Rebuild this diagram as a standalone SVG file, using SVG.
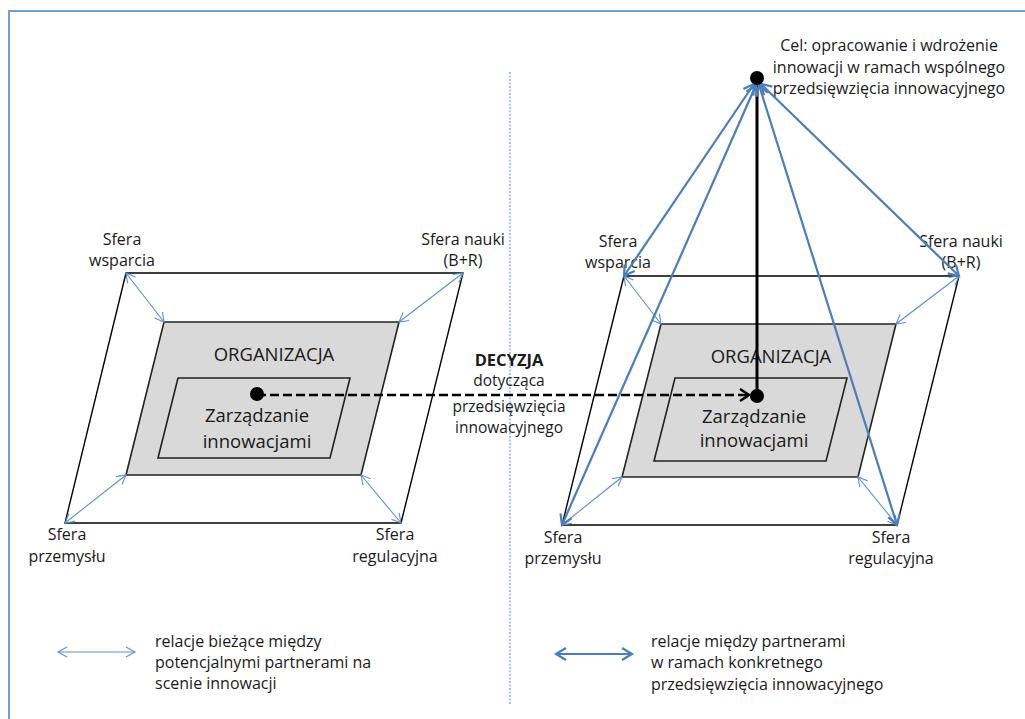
<svg xmlns="http://www.w3.org/2000/svg" width="1025" height="719" viewBox="0 0 1025 719">
<style>
text{font-family:"Open Sans","Liberation Sans",sans-serif;fill:#1a1a1a;text-anchor:middle}
.lbl{font-size:16px}
.dec{font-size:15.5px}
.big{font-size:18.5px}
.leg{font-size:16px;text-anchor:start}
.outer{fill:none;stroke:#000;stroke-width:1.4}
.org{fill:#d9d9d9;stroke:#222;stroke-width:1.6}
.zi{fill:#d9d9d9;stroke:#222;stroke-width:1.6}
.thin{stroke:#5b8fd0;stroke-width:1.1;fill:none;marker-start:url(#mt);marker-end:url(#mt)}
.thick{stroke:#4a7ebb;stroke-width:2.2;fill:none;marker-start:url(#mk);marker-end:url(#mk)}
</style>
<defs>
<marker id="mt" viewBox="-12 -7 14 14" refX="0" refY="0" markerWidth="14" markerHeight="14" markerUnits="userSpaceOnUse" orient="auto-start-reverse">
<path d="M-9,-5 L0,0 L-9,5" fill="none" stroke="#5b8fd0" stroke-width="1.1"/>
</marker>
<marker id="mk" viewBox="-13 -8 16 16" refX="0" refY="0" markerWidth="16" markerHeight="16" markerUnits="userSpaceOnUse" orient="auto-start-reverse">
<path d="M-10,-6 L0,0 L-10,6" fill="none" stroke="#4a7ebb" stroke-width="2.2"/>
</marker>
<marker id="mb" viewBox="-12 -8 14 16" refX="0" refY="0" markerWidth="14" markerHeight="16" markerUnits="userSpaceOnUse" orient="auto">
<path d="M-9,-6 L0,0 L-9,6" fill="none" stroke="#000" stroke-width="2.5"/>
</marker>
</defs>
<rect width="1025" height="719" fill="#fff"/>
<rect x="9" y="11" width="1100" height="800" fill="none" stroke="#6f9fd8" stroke-width="2"/>
<line x1="510" y1="72" x2="510" y2="705" stroke="#8db3e2" stroke-width="1.5" stroke-dasharray="2 1.5"/>

<g id="left-scene">
<polygon class="outer" points="126,273 463,273 401,523 65,523"/>
<polygon class="org" points="164,322 399,322 361,475 126,475"/>
<polygon class="zi" points="178,378 350,378 330,458 158,458"/>
</g>
<g id="left-labels">
<text class="big" x="274" y="361">ORGANIZACJA</text>
<text class="big" x="257" y="422">Zarządzanie</text>
<text class="big" x="257" y="448">innowacjami</text>
<text class="lbl" x="122" y="245">Sfera</text>
<text class="lbl" x="122" y="266">wsparcia</text>
<text class="lbl" x="463" y="245">Sfera nauki</text>
<text class="lbl" x="463" y="266">(B+R)</text>
<text class="lbl" x="67" y="540">Sfera</text>
<text class="lbl" x="67" y="562">przemysłu</text>
<text class="lbl" x="395" y="540">Sfera</text>
<text class="lbl" x="395" y="562">regulacyjna</text>
</g>

<g id="right-scene">
<polygon class="outer" points="624,276 959,276 897,525 562,525"/>
<polygon class="org" points="661,324 896,324 858,477 622,477"/>
<polygon class="zi" points="675,378 847,378 826,461 654,461"/>
</g>
<g id="right-labels">
<text class="big" x="771" y="363">ORGANIZACJA</text>
<text class="big" x="754" y="423">Zarządzanie</text>
<text class="big" x="754" y="447">innowacjami</text>
<text class="lbl" x="618" y="247">Sfera</text>
<text class="lbl" x="618" y="268">wsparcia</text>
<text class="lbl" x="961" y="247">Sfera nauki</text>
<text class="lbl" x="961" y="268">(B+R)</text>
<text class="lbl" x="563" y="543">Sfera</text>
<text class="lbl" x="563" y="564">przemysłu</text>
<text class="lbl" x="891" y="543">Sfera</text>
<text class="lbl" x="891" y="564">regulacyjna</text>
</g>

<g id="goal">
<text class="lbl" x="889" y="51">Cel: opracowanie i wdrożenie</text>
<text class="lbl" x="889" y="73">innowacji w ramach wspólnego</text>
<text class="lbl" x="889" y="94">przedsięwzięcia innowacyjnego</text>
</g>

<g id="decision">
<text x="509" y="366" font-size="16.5" font-weight="bold">DECYZJA</text>
<text class="dec" x="509" y="386">dotycząca</text>
<text class="dec" x="509" y="412">przedsięwzięcia</text>
<text class="dec" x="509" y="433">innowacyjnego</text>
</g>

<g id="connectors">
<line class="thin" x1="126" y1="273" x2="164" y2="322"/>
<line class="thin" x1="463" y1="273" x2="399" y2="322"/>
<line class="thin" x1="65" y1="523" x2="126" y2="475"/>
<line class="thin" x1="401" y1="523" x2="361" y2="475"/>
<line class="thin" x1="624" y1="276" x2="661" y2="324"/>
<line class="thin" x1="959" y1="276" x2="896" y2="324"/>
<line class="thin" x1="562" y1="525" x2="622" y2="477"/>
<line class="thin" x1="897" y1="525" x2="858" y2="477"/>
<line x1="757" y1="78" x2="757" y2="396" stroke="#000" stroke-width="3"/>
<line class="thick" x1="754" y1="84" x2="624" y2="276"/>
<line class="thick" x1="756" y1="85" x2="562" y2="525"/>
<line class="thick" x1="759" y1="85" x2="897" y2="525"/>
<line class="thick" x1="761" y1="84" x2="959" y2="276"/>
<line x1="257" y1="395" x2="749" y2="395" stroke="#000" stroke-width="2.5" stroke-dasharray="9 4" marker-end="url(#mb)"/>
</g>
<g id="dots">
<circle cx="257" cy="394" r="7" fill="#000"/>
<circle cx="757" cy="396" r="7" fill="#000"/>
<circle cx="757" cy="78" r="7" fill="#000"/>
</g>

<g id="legend">
<line class="thin" x1="58" y1="652" x2="135" y2="652"/>
<text class="leg" x="155" y="647">relacje bieżące między</text>
<text class="leg" x="155" y="668">potencjalnymi partnerami na</text>
<text class="leg" x="155" y="689">scenie innowacji</text>
<line class="thick" x1="556" y1="654" x2="632" y2="654"/>
<text class="leg" x="651" y="647">relacje między partnerami</text>
<text class="leg" x="651" y="668">w ramach konkretnego</text>
<text class="leg" x="651" y="690">przedsięwzięcia innowacyjnego</text>
</g>
</svg>
